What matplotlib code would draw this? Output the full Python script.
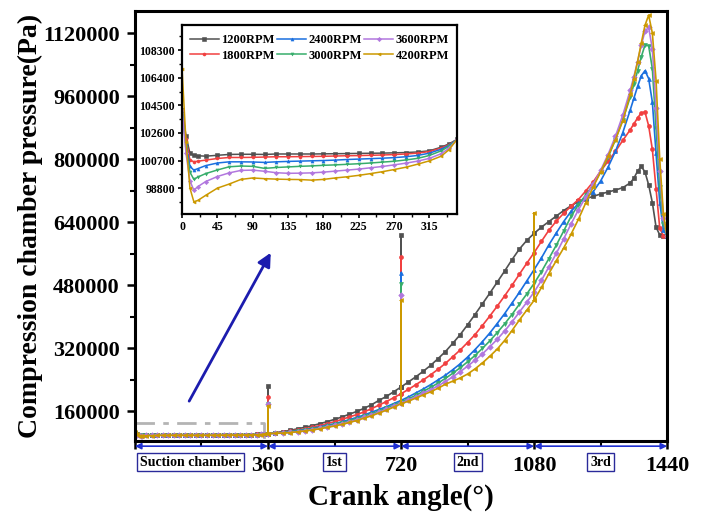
import numpy as np
import matplotlib
matplotlib.use('Agg')
import matplotlib.pyplot as plt
from matplotlib.ticker import FuncFormatter

plt.rcParams['font.family'] = 'Liberation Serif'
plt.rcParams['font.weight'] = 'bold'
plt.rcParams['axes.labelweight'] = 'bold'

labels = ['1200RPM', '1800RPM', '2400RPM', '3000RPM', '3600RPM', '4200RPM']
colors = ['#515151', '#F14040', '#1A6FDF', '#37AD6B', '#B177DE', '#CC9900']
markers = ['s', 'o', '^', 'v', 'D', '<']

# suction chamber (inset), Pa
suc_ang = [0, 5, 10, 15, 20, 30, 45, 60, 75, 90, 105, 120, 135, 150, 165, 180, 195,
           210, 225, 240, 255, 270, 285, 300, 315, 330, 340, 350]
suc_1200 = [104200, 102400, 101200, 101050, 101030, 101000, 101060, 101120, 101130, 101130,
            101120, 101150, 101150, 101150, 101150, 101160, 101170, 101180, 101190, 101200,
            101210, 101230, 101250, 101290, 101370, 101620, 101850, 102150]
suc_1800 = [104200, 102200, 100730, 100620, 100650, 100730, 100840, 100910, 100910, 100920,
            100940, 100960, 100960, 100970, 100980, 100990, 101010, 101030, 101040, 101060,
            101080, 101110, 101150, 101210, 101320, 101560, 101800, 102150]
suc_2400 = [104200, 101900, 100300, 100040, 100140, 100350, 100530, 100610, 100610, 100600,
            100570, 100610, 100640, 100660, 100680, 100700, 100730, 100770, 100800, 100830,
            100860, 100900, 100960, 101050, 101210, 101480, 101750, 102150]
suc_3000 = [104200, 101600, 99900, 99400, 99560, 99800, 100050, 100270, 100320, 100300,
            100160, 100220, 100260, 100300, 100330, 100370, 100400, 100440, 100480, 100530,
            100590, 100650, 100740, 100850, 101050, 101370, 101680, 102150]
suc_3600 = [104200, 101200, 99300, 98660, 98900, 99250, 99600, 99850, 100020, 100040,
            99960, 99860, 99820, 99830, 99850, 99900, 99970, 100040, 100110, 100200,
            100290, 100400, 100520, 100660, 100850, 101170, 101550, 102150]
suc_4200 = [107000, 102000, 98800, 97860, 97950, 98300, 98800, 99080, 99400, 99500,
            99450, 99420, 99400, 99390, 99350, 99400, 99500, 99580, 99680, 99800,
            99930, 100080, 100240, 100450, 100680, 101000, 101450, 102150]

# compression 1st-3rd chamber, kPa
comp_ang = list(range(360, 1341, 20)) + list(range(1350, 1441, 10))
comp_1200 = [104, 106, 109, 112, 116, 120, 124, 129, 134, 140, 146, 153, 160, 168, 177, 188, 198, 210,
             222, 235, 248, 262, 277, 294, 312, 333, 355, 380, 406, 433, 460, 488, 516, 545, 572, 594,
             612, 628, 642, 656, 670, 682, 693, 700, 706, 712, 717, 722, 728, 740,
             752, 770, 782, 768, 735, 690, 628, 608, 605, 605]
comp_1800 = [104, 105.5, 107.5, 110, 113, 116, 120, 124, 129, 134, 140, 146, 152, 159, 167, 176, 185, 195,
             205, 216, 228, 240, 253, 267, 282, 299, 316, 335, 355, 378, 402, 427, 453, 480, 508, 536,
             563, 592, 620, 643, 663, 681, 698, 720, 743, 770, 795, 820, 848, 875,
             890, 905, 918, 920, 885, 825, 725, 625, 606, 603]
comp_2400 = [104, 105, 107, 109, 111.5, 114, 117, 121, 125, 129, 134, 139, 145, 151, 158, 165, 172, 180,
             188, 197, 207, 217, 228, 240, 252, 266, 281, 298, 317, 337, 359, 383, 408, 435, 462, 491,
             520, 550, 583, 613, 642, 668, 688, 702, 718, 745, 780, 820, 868, 925,
             955, 985, 1012, 1025, 1005, 945, 815, 690, 620, 605]
comp_3000 = [104, 104.5, 106, 108, 110, 112.5, 115.5, 119, 123, 127, 131.5, 136.5, 142, 148, 154, 161, 168, 175.5,
             184, 192, 201, 211, 221, 232, 244, 257, 271, 286, 302, 320, 339, 360, 382, 406, 432, 458,
             485, 515, 548, 582, 618, 655, 685, 710, 735, 768, 805, 850, 900, 958,
             990, 1025, 1060, 1090, 1088, 1030, 880, 730, 635, 605]
comp_3600 = [104, 104.5, 105.5, 107, 109, 111.5, 114, 117, 121, 125, 129, 134, 139, 145, 151, 158, 165, 173,
             181, 189, 197, 206, 215, 225, 236, 248, 261, 275, 290, 306, 324, 343, 364, 387, 412, 437,
             463, 493, 527, 561, 598, 636, 672, 705, 737, 772, 812, 858, 912, 975,
             1010, 1048, 1090, 1125, 1135, 1080, 930, 770, 650, 605]
comp_4200 = [104, 104.5, 105, 106.5, 108.5, 110.5, 113, 116, 119.5, 123, 127, 132, 137, 143, 149, 156, 163, 171,
             179.5, 186, 194, 202, 210, 219, 229, 237, 245, 255, 268, 283, 300, 318, 340, 365, 392, 417,
             442, 475, 510, 543, 575, 610, 648, 690, 730, 768, 808, 850, 898, 965,
             1005, 1048, 1095, 1140, 1166, 1120, 1000, 800, 660, 605]

# valve spikes at chamber change, Pa
spike_360 = [223500, 196000, 182000, 180000, 178000, 175000]
spike_720 = [607000, 552000, 511500, 484600, 454800, 442000]
spike_1080 = [None, None, None, None, None, 664000]

suc_all = [suc_1200, suc_1800, suc_2400, suc_3000, suc_3600, suc_4200]
comp_all = [comp_1200, comp_1800, comp_2400, comp_3000, comp_3600, comp_4200]


def with_spikes(xs, ys, spikes):
    xs, ys = list(xs), list(ys)
    for a, v in spikes:
        if v is None:
            continue
        i = xs.index(a)
        xs[i + 1:i + 1] = [a, a]
        ys[i + 1:i + 1] = [v, ys[i]]
    return xs, ys


fig = plt.figure(figsize=(7.03, 5.14), dpi=100)
ax = fig.add_axes([0.192, 0.142, 0.757, 0.837])

for i in range(6):
    x = suc_ang + comp_ang
    y = suc_all[i] + list(np.array(comp_all[i]) * 1000)
    x, y = with_spikes(x, y, [(360, spike_360[i]), (720, spike_720[i]), (1080, spike_1080[i])])
    ax.plot(x, y, color=colors[i], marker=markers[i], ms=2.8, lw=1.2, mew=0.5)

ax.set_xlim(0, 1440)
ax.set_ylim(85000, 1177000)
ax.set_xticks([0, 360, 720, 1080, 1440])
ax.set_xticklabels(['', '360', '720', '1080', '1440'])
ax.set_xticks([180, 540, 900, 1260], minor=True)
ax.set_yticks(np.arange(160000, 1120001, 160000))
ax.set_yticks(np.arange(240000, 1120001, 160000), minor=True)
ax.yaxis.set_major_formatter(FuncFormatter(lambda v, p: '%d' % v))
ax.tick_params(which='major', direction='out', length=6, width=1.8, labelsize=16, pad=5)
ax.tick_params(which='minor', direction='out', length=3.5, width=1.5)
for s in ax.spines.values():
    s.set_linewidth(2.2)
ax.set_xlabel('Crank angle(°)', fontsize=21, labelpad=5)
ax.set_ylabel('Compression chamber pressure(Pa)', fontsize=20, labelpad=0)

# zoom box on suction region
ax.plot([0, 348, 348], [130000, 130000, 85000], color='#b4b4b4', lw=2,
        ls=(0, (7, 3, 2, 3)), zorder=1)
ax.annotate('', xy=(371, 569000), xytext=(143, 180000),
            arrowprops=dict(arrowstyle='-|>', color='#1c1cae', lw=2, mutation_scale=20))

# chamber arrows and boxes under the axis
tr = ax.get_xaxis_transform()
for a, b in [(0, 360), (360, 720), (720, 1080), (1080, 1440)]:
    ax.annotate('', xy=(b, -0.012), xytext=(a, -0.012), xycoords=tr, textcoords=tr,
                arrowprops=dict(arrowstyle='<|-|>', color='#2030d0', lw=1.2, mutation_scale=9,
                                shrinkA=0, shrinkB=0), annotation_clip=False)
for xc, t in [(150, 'Suction chamber'), (540, '1st'), (900, '2nd'), (1260, '3rd')]:
    ax.text(xc, -0.049, t, transform=tr, ha='center', va='center', fontsize=10,
            bbox=dict(boxstyle='square,pad=0.2', fc='white', ec='#2a2a9a', lw=1))

# inset
axins = fig.add_axes([0.259, 0.584, 0.391, 0.367])
for i in range(6):
    axins.plot(suc_ang, suc_all[i], color=colors[i], marker=markers[i], ms=2.2, lw=1.1,
               mew=0.4, label=labels[i])
axins.set_xlim(0, 350)
axins.set_ylim(97030, 110020)
axins.set_xticks(np.arange(0, 316, 45))
axins.set_xticks(np.arange(22.5, 350, 45), minor=True)
axins.set_yticks(np.arange(98800, 108301, 1900))
axins.set_yticks(np.arange(97850, 110000, 1900), minor=True)
axins.tick_params(which='major', direction='out', length=3, width=1.2, labelsize=8.5, pad=2)
axins.tick_params(which='minor', direction='out', length=2, width=1)
for s in axins.spines.values():
    s.set_linewidth(1.6)
axins.legend(loc='upper center', ncol=3, frameon=False, fontsize=9, handlelength=2.3,
             columnspacing=0.2, handletextpad=0.2, labelspacing=0.3, borderaxespad=0.3)

fig.savefig('out.png', dpi=100)
